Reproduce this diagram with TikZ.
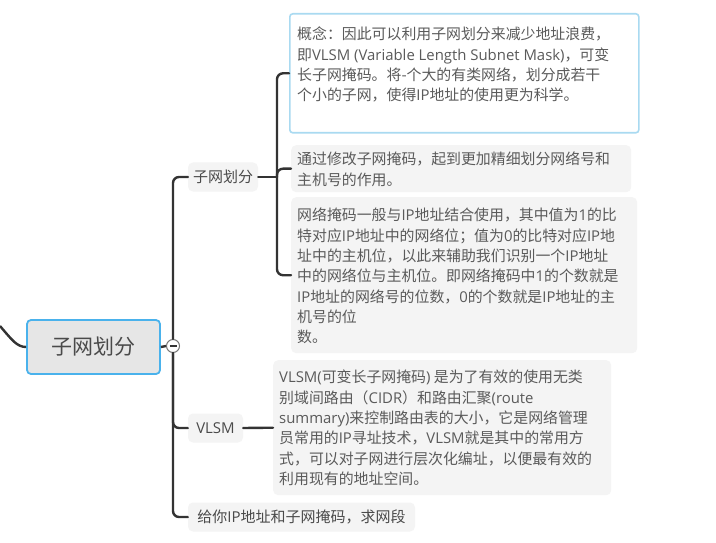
\documentclass[tikz,border=0pt]{standalone}
\usepackage{fontspec}
\usetikzlibrary{calc}
\newfontfamily\cjk{Noto Sans CJK SC}
\newfontfamily\lat{Open Sans}
\newcommand{\lt}[1]{{\lat #1}}
\begin{document}
\begin{tikzpicture}[x=1pt,y=-1pt,
  branch/.style={draw=linec, line width=2.4pt, rounded corners=6pt, line cap=round},
  rootbox/.style={draw=rootblue, line width=1.8pt, fill=rootfill, rounded corners=4pt,
    minimum width=133pt, minimum height=54pt, inner sep=0pt,
    font=\cjk\fontsize{21}{24}\selectfont, text=textc},
  topic/.style={fill=topicfill, rounded corners=5pt, inner sep=0pt, minimum height=29pt,
    font=\cjk\fontsize{15}{18}\selectfont, text=textc},
  notebox/.style={fill=topicfill, rounded corners=5pt, inner sep=0pt, anchor=north west},
  notetext/.style={anchor=north west, align=left, inner sep=0pt,
    font=\cjk\fontsize{14.9}{20.3}\selectfont, text=notec},
  toggle/.style={circle, draw=togglec, line width=1pt, fill=white, minimum size=13pt, inner sep=0pt}
]
\definecolor{linec}{HTML}{333333}
\definecolor{rootblue}{HTML}{4AB2EC}
\definecolor{rootfill}{HTML}{E6E6E6}
\definecolor{topicfill}{HTML}{F4F4F4}
\definecolor{textc}{HTML}{4A4A4A}
\definecolor{notec}{HTML}{5A5A5A}
\definecolor{selblue}{HTML}{A9DAF1}
\definecolor{togglec}{HTML}{777777}

\useasboundingbox[fill=white] (0,0) rectangle (716,543);

% root topic
\node[rootbox] (root) at (93.5,347) {子网划分};
\node[toggle] (tog) at (173,346) {};

% main topics
\node[topic, minimum width=70pt] (t1) at (223,177) {子网划分};
\node[topic, minimum width=55pt] (t2) at (215.5,428) {\lt{VLSM}};
\node[topic, minimum width=227pt] (t3) at (301.5,517) {给你\lt{IP}地址和子网掩码，求网段};

% notes under the first topic
\node[notebox, fill=white, draw=selblue, line width=1.6pt, rounded corners=3pt,
  minimum width=349pt, minimum height=119pt] (n1) at (289,13) {};
\node[notetext] (n1t) at (297,27) {概念：因此可以利用子网划分来减少地址浪费，\\
即\lt{VLSM (Variable Length Subnet Mask)}，可变\\
长子网掩码。将-个大的有类网络，划分成若干\\
个小的子网，使得\lt{IP}地址的使用更为科学。};

\node[notebox, minimum width=340pt, minimum height=47pt] (n2) at (291,145) {};
\node[notetext] (n2t) at (297,152) {通过修改子网掩码，起到更加精细划分网络号和\\
主机号的作用。};

\node[notebox, minimum width=346pt, minimum height=156pt] (n3) at (291,197) {};
\node[notetext] (n3t) at (297,208) {网络掩码一般与\lt{IP}地址结合使用，其中值为\lt{1}的比\\
特对应\lt{IP}地址中的网络位；值为\lt{0}的比特对应\lt{IP}地\\
址中的主机位，以此来辅助我们识别一个\lt{IP}地址\\
中的网络位与主机位。即网络掩码中\lt{1}的个数就是\\
\lt{IP}地址的网络号的位数，\lt{0}的个数就是\lt{IP}地址的主\\
机号的位\\
数。};

% note of VLSM
\node[notebox, minimum width=338pt, minimum height=135pt] (n4) at (273,360) {};
\node[notetext] (n4t) at (279,370) {\lt{VLSM(}可变长子网掩码\lt{)} 是为了有效的使用无类\\
别域间路由（\lt{CIDR}）和路由汇聚\lt{(route}\\
\lt{summary)}来控制路由表的大小，它是网络管理\\
员常用的\lt{IP}寻址技术，\lt{VLSM}就是其中的常用方\\
式，可以对子网进行层次化编址，以便最有效的\\
利用现有的地址空间。};

% incoming link to the root
\draw[linec, line width=2.4pt] (0,326) .. controls (12,340) and (17,347) .. (root.west);
\draw[linec, line width=2.4pt] (root.east) -- (tog.west);

% trunk of the root
\draw[branch] (tog.north) |- (t1.west);
\draw[branch] (tog.south) |- (t3.west);
\draw[branch] (tog.south) |- (t2.west);
\draw[linec, line width=1.2pt] ($(tog.center)+(-3.5,0)$) -- ($(tog.center)+(3.5,0)$);

% trunk of the first topic
\coordinate (s1) at (277,177);
\draw[branch] (t1.east) -- (s1);
\draw[branch] (s1) |- (n1.west);
\draw[branch] (s1) |- (n2.west);
\draw[branch] (s1) |- (n3.west);

% link of VLSM to its note
\draw[branch] (t2.east) -- (n4.west);
\end{tikzpicture}
\end{document}
